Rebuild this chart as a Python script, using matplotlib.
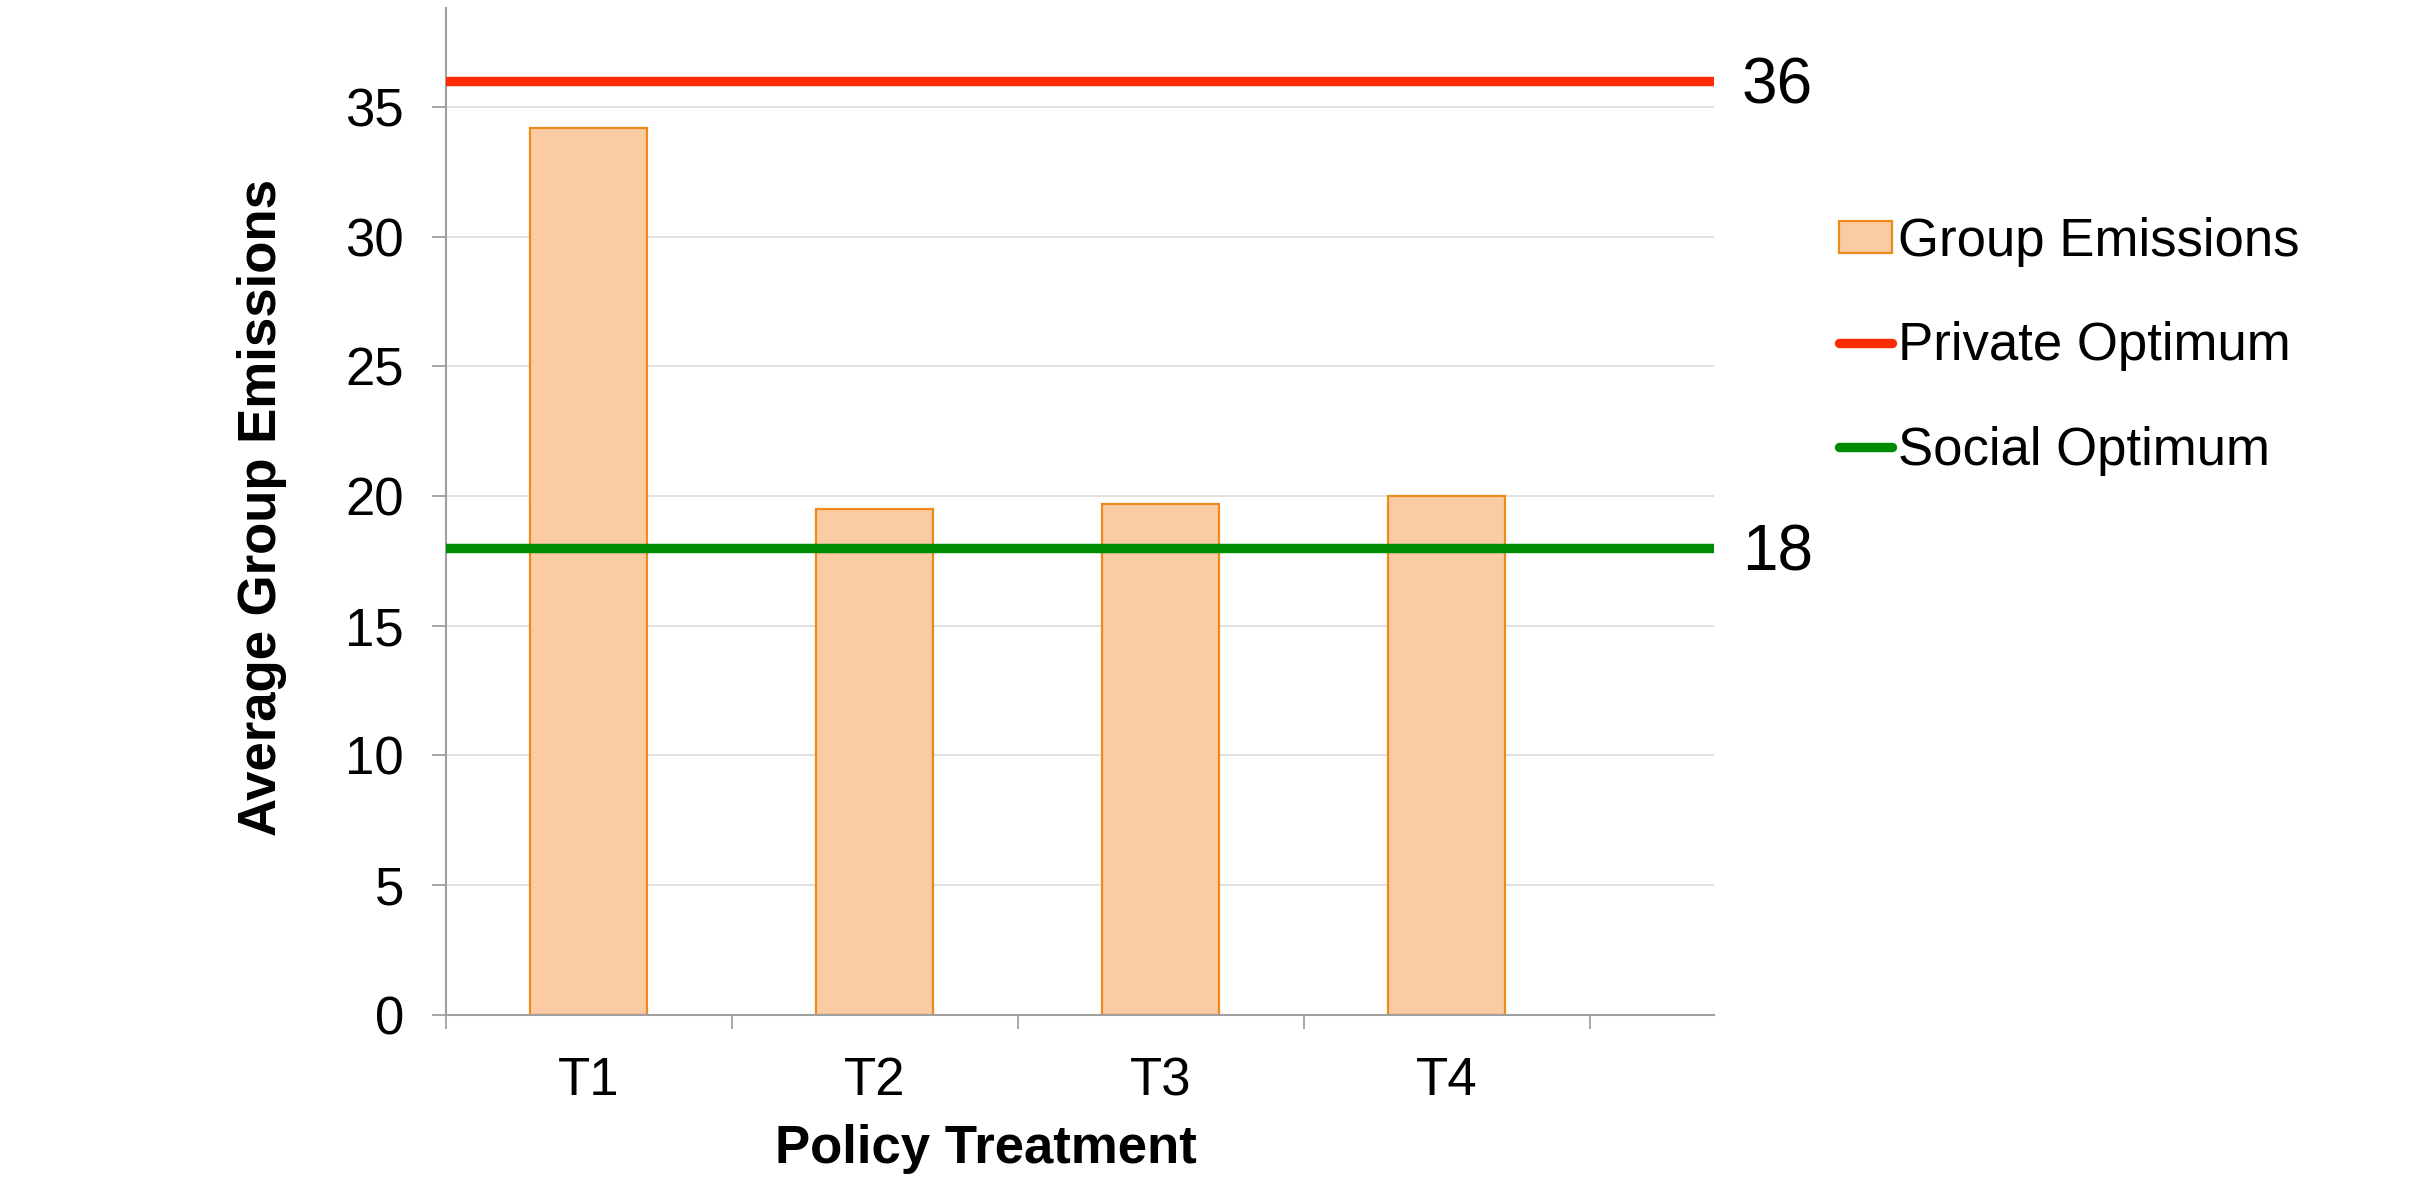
import numpy as np
import matplotlib.pyplot as plt
from matplotlib.patches import Patch
from matplotlib.lines import Line2D

plt.rcParams["font.family"] = ["Liberation Sans", "DejaVu Sans"]

treatments = ["T1", "T2", "T3", "T4"]
group_emissions = [34.2, 19.5, 19.7, 20.0]
private_optimum = 36
social_optimum = 18
y_ticks = [0, 5, 10, 15, 20, 25, 30, 35]

BAR_FILL = "#FBCBA3"
BAR_EDGE = "#EE8A1C"
RED = "#FF2A06"
GREEN = "#008C00"
AXIS_GREY = "#A0A0A0"

fig = plt.figure(figsize=(24.36, 11.83), dpi=100)
ax = fig.add_axes([0.183, 0.1424, 0.5206, 0.8506])

x = np.arange(len(treatments))
ax.bar(x, group_emissions, width=0.41, color=BAR_FILL, edgecolor=BAR_EDGE,
       linewidth=1.6, zorder=2)
ax.axhline(private_optimum, color=RED, linewidth=6.8, zorder=3)
ax.axhline(social_optimum, color=GREEN, linewidth=6.8, zorder=3)

ax.set_xlim(-0.5, 3.935)
ax.set_ylim(0, 38.8)

# y axis: grey ticks pointing out, light horizontal grid
ax.set_yticks(y_ticks)
ax.tick_params(axis="y", direction="out", length=10, width=1.3,
               color=AXIS_GREY, labelsize=38, pad=20)
ax.yaxis.grid(True, color="#DEDEDE", linewidth=1.3, zorder=0)
ax.set_axisbelow(True)

# x axis: labels at category centres, tick marks at category boundaries
ax.set_xticks(x)
ax.set_xticklabels(treatments)
ax.set_xticks(np.arange(-0.5, 4.0, 1.0), minor=True)
ax.tick_params(axis="x", which="major", length=0, labelsize=38, pad=30)
ax.tick_params(axis="x", which="minor", direction="out", length=10,
               width=1.3, color=AXIS_GREY)

for side in ("top", "right"):
    ax.spines[side].set_visible(False)
for side in ("left", "bottom"):
    ax.spines[side].set_color(AXIS_GREY)
    ax.spines[side].set_linewidth(1.5)

ax.set_xlabel("Policy Treatment", fontsize=38, fontweight="bold")
ax.xaxis.set_label_coords(0.426, -0.134)
ax.xaxis.label.set_va("center")
ax.set_ylabel("Average Group Emissions", fontsize=38, fontweight="bold")
ax.yaxis.set_label_coords(-0.1447, 0.504)
ax.yaxis.label.set_va("center")

# value labels for the two reference lines, digits centred on the line
label_tf = ax.get_yaxis_transform()
for val in (private_optimum, social_optimum):
    ax.annotate(f"{val}", xy=(1.022, val), xycoords=label_tf,
                xytext=(0, -16.5), textcoords="offset points",
                fontsize=46, ha="left", va="baseline")

handles = [
    Patch(facecolor=BAR_FILL, edgecolor=BAR_EDGE, linewidth=1.6),
    Line2D([0], [0], color=RED, linewidth=6.8, solid_capstyle="round"),
    Line2D([0], [0], color=GREEN, linewidth=6.8, solid_capstyle="round"),
]
labels = ["Group Emissions", "Private Optimum", "Social Optimum"]
fig.legend(handles, labels, loc="upper left", bbox_to_anchor=(0.755, 0.8166),
           frameon=False, fontsize=38, handlelength=1.0, handleheight=0.55,
           handletextpad=0.12, labelspacing=1.03, borderpad=0, borderaxespad=0)

fig.savefig("out.png", dpi=100)
